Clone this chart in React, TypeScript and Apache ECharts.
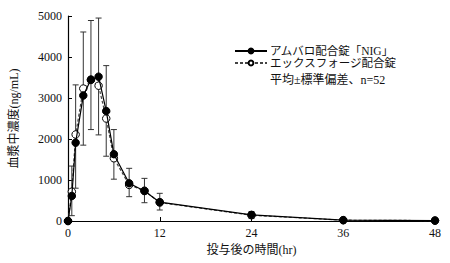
import React, { useEffect, useRef } from "react";
import * as echarts from "echarts";

const times = [0, 0.5, 1, 2, 3, 4, 5, 6, 8, 10, 12, 24, 36, 48];
const amvalo = [0, 610, 1910, 3060, 3450, 3520, 2680, 1630, 920, 730, 460, 150, 20, 10];
const exforge = [0, 715, 2110, 3230, 3440, 3300, 2500, 1530, 880, 740, 450, 140, 20, 10];
const errLow = [null, 130, 800, 1850, 2230, 2100, 1580, 1020, 593, 446, 268, 60, null, null];
const errHigh = [null, 1340, 3320, 4610, 4890, 4950, 3790, 2230, 1285, 1040, 675, 230, null, null];
const xTicks = [0, 12, 24, 36, 48];
const seriesNames = ["アムバロ配合錠「NIG」", "エックスフォージ配合錠"];
const noteText = "平均±標準偏差、n=52";
const yName = "血漿中濃度(ng/mL)";
const xName = "投与後の時間(hr)";

const FONT = "'Liberation Serif', 'DejaVu Serif', 'Noto Sans CJK JP', serif";

export default function App() {
  const ref = useRef<HTMLDivElement>(null);
  useEffect(() => {
    if (!ref.current) return;
    const chart = echarts.init(ref.current, null, { renderer: "svg" });
    const errData = times
      .map((t, i) => [t, errLow[i], errHigh[i]])
      .filter((d) => d[1] !== null);
    chart.setOption({
      animation: false,
      backgroundColor: "#fff",
      textStyle: { fontFamily: FONT },
      grid: { left: 64, right: 15, top: 16, bottom: 42 },
      legend: {
        left: 234,
        top: 45,
        padding: 0,
        orient: "vertical",
        itemWidth: 32,
        itemHeight: 6,
        itemGap: 0,
        data: seriesNames,
        textStyle: { fontFamily: FONT, fontSize: 11.5, color: "#111", lineHeight: 12, padding: [0, 0, 0, -2] },
      },
      graphic: [
        {
          type: "text",
          left: 270,
          top: 74,
          style: { text: noteText, font: `12px ${FONT}`, fill: "#111" },
        },
      ],
      xAxis: {
        type: "value",
        min: 0,
        max: 48,
        interval: 12,
        name: xName,
        nameLocation: "middle",
        nameGap: 22,
        nameTextStyle: { fontFamily: FONT, fontSize: 12, color: "#111" },
        axisLine: { lineStyle: { color: "#000", width: 1.2 } },
        axisTick: { inside: true, length: 4, lineStyle: { color: "#000" } },
        axisLabel: {
          fontFamily: FONT,
          fontSize: 12,
          color: "#111",
          margin: 6,
          formatter: (v: number) => (xTicks.includes(v) ? String(v) : ""),
        },
        splitLine: { show: false },
      },
      yAxis: {
        type: "value",
        min: 0,
        max: 5000,
        interval: 1000,
        name: yName,
        nameLocation: "middle",
        nameGap: 48,
        nameTextStyle: { fontFamily: FONT, fontSize: 12, color: "#111" },
        axisLine: { show: true, lineStyle: { color: "#000", width: 1.2 } },
        axisTick: { show: true, inside: true, length: 4, lineStyle: { color: "#000" } },
        axisLabel: {
          fontFamily: FONT,
          fontSize: 12,
          color: "#111",
          margin: 6,
          formatter: (v: number) => String(v),
        },
        splitLine: { show: false },
      },
      series: [
        {
          type: "custom",
          name: "sd",
          data: errData,
          z: 1,
          renderItem: (params: any, api: any) => {
            const lo = api.coord([api.value(0), api.value(1)]);
            const hi = api.coord([api.value(0), api.value(2)]);
            const w = 3;
            const st = { stroke: "#333", lineWidth: 1 };
            return {
              type: "group",
              children: [
                { type: "line", shape: { x1: lo[0], y1: lo[1], x2: hi[0], y2: hi[1] }, style: st },
                { type: "line", shape: { x1: lo[0] - w, y1: lo[1], x2: lo[0] + w, y2: lo[1] }, style: st },
                { type: "line", shape: { x1: hi[0] - w, y1: hi[1], x2: hi[0] + w, y2: hi[1] }, style: st },
              ],
            };
          },
        },
        {
          type: "line",
          name: seriesNames[1],
          data: times.map((t, i) => [t, exforge[i]]),
          symbol: "circle",
          symbolSize: 7.5,
          z: 2,
          lineStyle: { color: "#444", width: 1.2, type: [3, 2] },
          itemStyle: { color: "#fff", borderColor: "#000", borderWidth: 1 },
        },
        {
          type: "line",
          name: seriesNames[0],
          data: times.map((t, i) => [t, amvalo[i]]),
          symbol: "circle",
          symbolSize: 7.5,
          z: 3,
          lineStyle: { color: "#000", width: 1.2 },
          itemStyle: { color: "#000", borderColor: "#000", borderWidth: 1 },
        },
      ],
    });
    return () => chart.dispose();
  }, []);
  return <div ref={ref} style={{ width: 450, height: 263, position: "absolute", left: 0, top: 0 }} />;
}
